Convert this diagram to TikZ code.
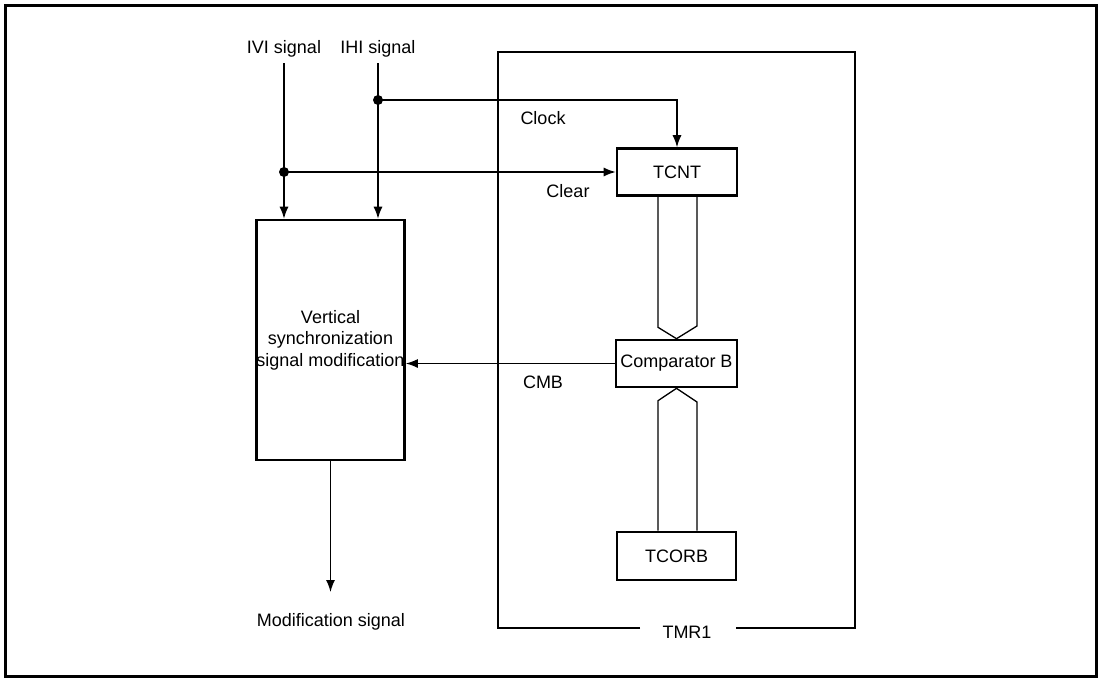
\documentclass[tikz,border=0pt]{standalone}
\usepackage{fontspec}
\setmainfont{Liberation Sans}
\usetikzlibrary{arrows.meta}
\begin{document}
\begin{tikzpicture}[x=1pt,y=-1pt,
  font=\fontsize{18}{21.6}\selectfont,
  thin line/.style={line width=1.3pt},
  blockbox/.style={draw, line width=2.6pt, inner sep=0pt, align=center},
  sig/.style={thin line, -{Latex[length=12pt,width=9pt]}},
  dotmark/.style={circle, fill=black, inner sep=0pt, minimum size=10pt},
  lbl/.style={inner sep=0pt, anchor=center}]
\useasboundingbox (0,0) rectangle (1101,678);
% outer frame
\draw[line width=3pt] (5,676.5) -- (5,5) -- (1096,5) -- (1096,676.5) -- cycle;

% TMR1 frame
\node[lbl] (tmr) at (687,632) {TMR1};
\coordinate (gapL) at (640,628);
\coordinate (gapR) at (736,628);
\draw[line width=1.4pt] (gapL) -- (498,628) -- (498,52) -- (855,52) -- (855,628) -- (gapR);

% blocks
\node[blockbox, minimum width=143pt, minimum height=240pt] (vsm) at (330.5,340)
  {Vertical\\synchronization\\signal modification};
\node[blockbox, minimum width=120pt, minimum height=47pt] (tcnt) at (677,172) {TCNT};
\node[blockbox, minimum width=121pt, minimum height=47pt] (cmpb) at (676.5,363.5) {Comparator B};
\node[blockbox, minimum width=119pt, minimum height=48pt] (tcorb) at (676.5,556) {TCORB};

% signal labels
\node[lbl] (ivi) at (284,49) {IVI signal};
\node[lbl] (ihi) at (378,49) {IHI signal};
\coordinate (iviTop) at (284,63);
\coordinate (ihiTop) at (378,63);
\node[dotmark] (dclr) at (284,172) {};
\node[dotmark] (dclk) at (378,100) {};

% inputs to vsm
\draw[sig] (iviTop) -- (iviTop |- vsm.north);
\draw[sig] (ihiTop) -- (ihiTop |- vsm.north);

% clock and clear
\draw[sig] (dclk.center) -- (tcnt.north |- dclk.center) -- (tcnt.north);
\draw[sig] (dclr.center) -- (tcnt.west |- dclr.center);
\node[lbl] (clk) at (543,118) {Clock};
\node[lbl] (clr) at (568,191) {Clear};

% CMB
\draw[sig] (cmpb.west) -- (vsm.east |- cmpb.west);
\node[lbl] (cmb) at (543,382) {CMB};

% modification signal
\coordinate (modEnd) at (330.5,592);
\draw[sig] (vsm.south) -- (modEnd);
\node[lbl] (mod) at (331,622) {Modification signal};

% bus arrows
\draw[thin line, line join=miter] ([xshift=-19pt]tcnt.south) -- ++(0,130.5) -- (cmpb.north) -- ([xshift=20pt]tcnt.south |- 0,326) -- ([xshift=20pt]tcnt.south);
\draw[thin line, line join=miter] ([xshift=-18.5pt]tcorb.north) -- ++(0,-130) -- (cmpb.south) -- ([xshift=20.5pt]tcorb.north |- 0,402) -- ([xshift=20.5pt]tcorb.north);
\end{tikzpicture}
\end{document}
